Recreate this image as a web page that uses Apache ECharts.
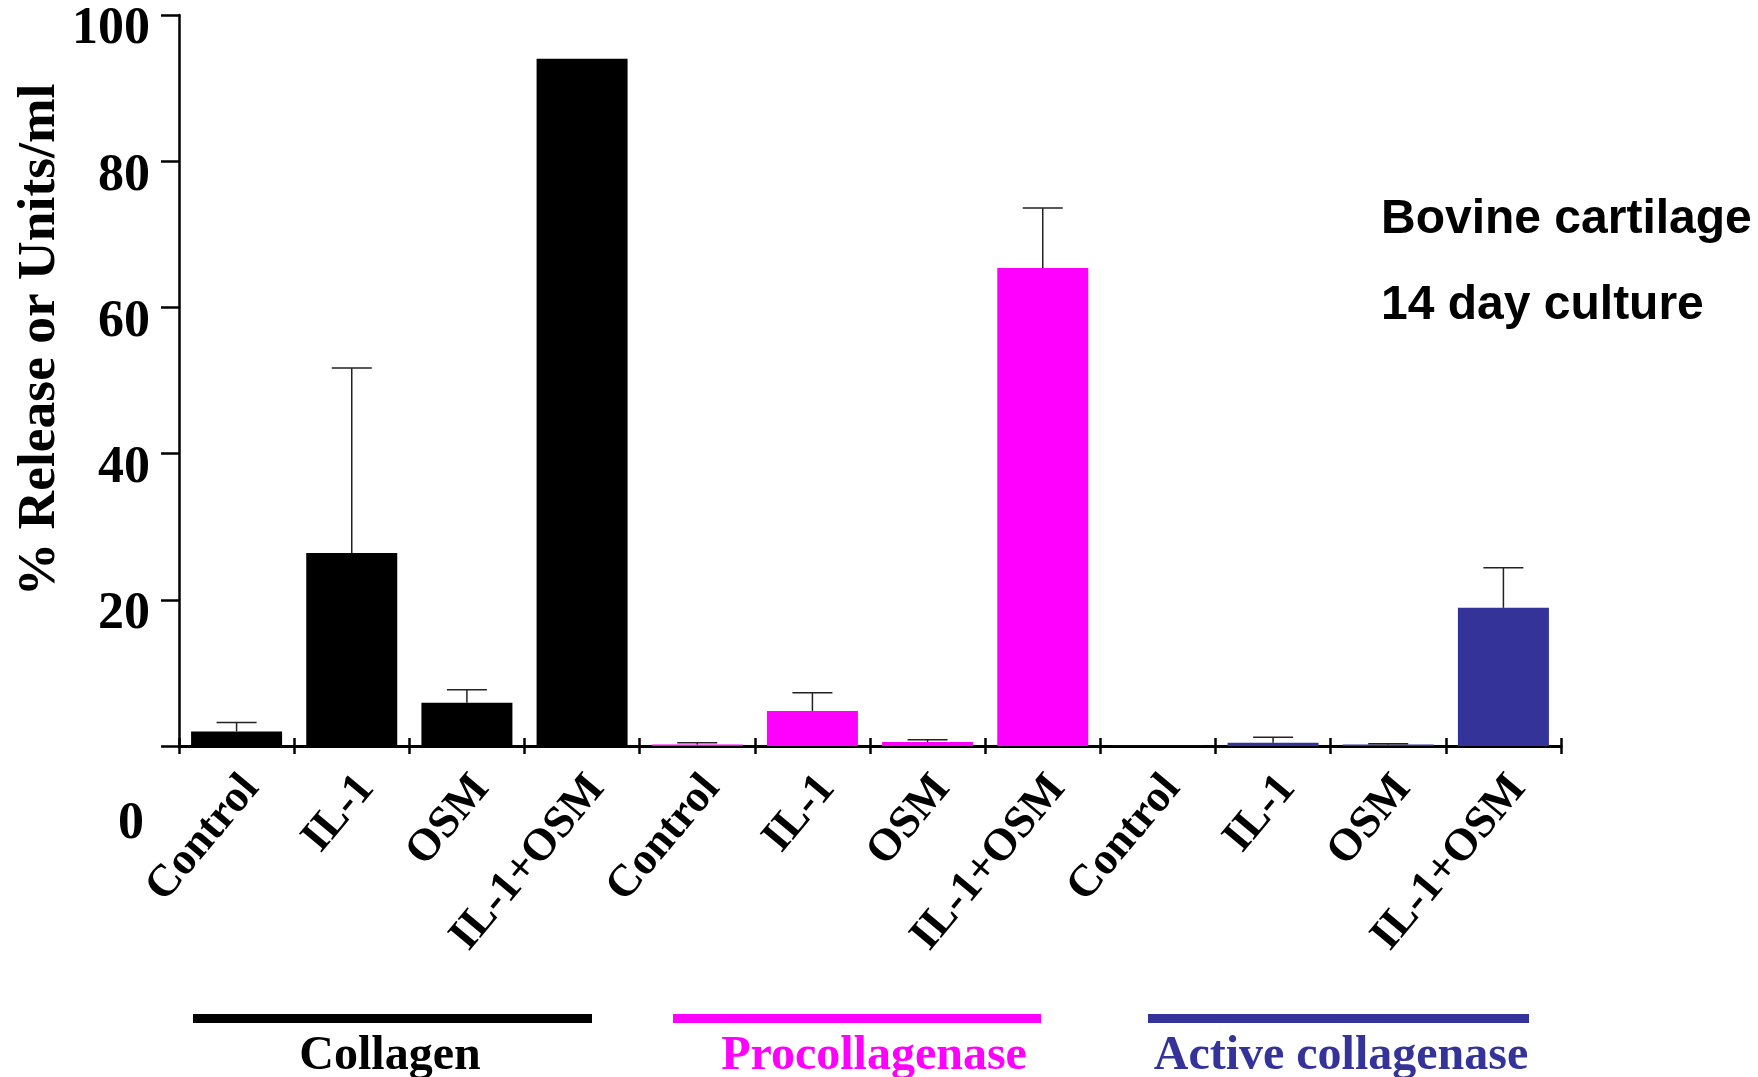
<!DOCTYPE html>
<html>
<head>
<meta charset="utf-8">
<title>Bovine cartilage, 14 day culture</title>
<script src="https://cdn.jsdelivr.net/npm/echarts@6/dist/echarts.min.js"></script>
<style>
  html, body { margin: 0; padding: 0; background: #ffffff; }
  #chart { width: 1758px; height: 1077px; }
</style>
</head>
<body>
<div id="chart"></div>
<script>
// Treatments, repeated for each of the three measured groups
const treatments = ['Control', 'IL-1', 'OSM', 'IL-1+OSM'];
const categories = treatments.concat(treatments, treatments);

// Mean values (% release or units/ml) and the upper error (SD) per treatment
const collagen = [2.0, 26.4, 5.9, 94.0];
const collagenErr = [1.2, 25.3, 1.8, 0];
const procollagenase = [0.2, 4.8, 0.55, 65.4];
const procollagenaseErr = [0.25, 2.5, 0.3, 8.2];
const activeCollagenase = [0.03, 0.45, 0.2, 18.9];
const activeCollagenaseErr = [0, 0.75, 0.1, 5.5];

const groupNames = ['Collagen', 'Procollagenase', 'Active collagenase'];
const groupColors = ['#000000', '#ff00ff', '#333399'];

const yTicks = [0, 20, 40, 60, 80, 100];

const SERIF = '"Liberation Serif", "Times New Roman", Times, serif';
const SANS = '"Liberation Sans", Arial, Helvetica, sans-serif';

const values = collagen.concat(procollagenase, activeCollagenase);
const errors = collagenErr.concat(procollagenaseErr, activeCollagenaseErr);

const barData = values.map((v, i) => ({
  value: v,
  itemStyle: { color: groupColors[Math.floor(i / 4)] }
}));
const errData = values.map((v, i) => [i, v, errors[i]]);

// Group brackets under the category labels: [x start, x end, text centre]
const groupLayout = [
  [193, 592, 390],
  [673, 1041, 874],
  [1148, 1529, 1341]
];

const graphic = [
  {
    type: 'text',
    x: 40, y: 340,
    rotation: Math.PI / 2,
    style: {
      text: '% Release or Units/ml',
      font: 'bold 53.5px ' + SERIF,
      fill: '#000',
      align: 'center',
      verticalAlign: 'middle'
    }
  },
  {
    type: 'text', x: 1381, y: 220,
    style: { text: 'Bovine cartilage', font: 'bold 48px ' + SANS, fill: '#000', align: 'left', verticalAlign: 'middle' }
  },
  {
    type: 'text', x: 1381, y: 306,
    style: { text: '14 day culture', font: 'bold 48px ' + SANS, fill: '#000', align: 'left', verticalAlign: 'middle' }
  }
];
groupLayout.forEach((g, k) => {
  graphic.push({
    type: 'rect',
    shape: { x: g[0], y: 1014, width: g[1] - g[0], height: 9 },
    style: { fill: groupColors[k] }
  });
  graphic.push({
    type: 'text', x: g[2], y: 1057,
    style: { text: groupNames[k], font: 'bold 48px ' + SERIF, fill: groupColors[k], align: 'center', verticalAlign: 'middle' }
  });
});

const chart = echarts.init(document.getElementById('chart'), null, { renderer: 'canvas' });

chart.setOption({
  backgroundColor: '#ffffff',
  animation: false,
  grid: { left: 179, right: 197, top: 15, bottom: 331, containLabel: false },
  xAxis: [
    {
      type: 'category',
      data: categories,
      position: 'bottom',
      axisLine: { show: true, lineStyle: { color: '#000', width: 3 } },
      axisTick: { show: true, length: 8, lineStyle: { color: '#000', width: 2.5 } },
      axisLabel: {
        interval: 0,
        rotate: 50,
        margin: 23,
        formatter: v => '{c|' + v + '}',
        rich: {
          c: { fontFamily: SERIF, fontWeight: 'bold', fontSize: 45, color: '#000', padding: [38, 0, 0, 0] }
        }
      }
    },
    {
      type: 'category',
      data: categories,
      position: 'bottom',
      offset: 0,
      axisLine: { show: false },
      axisTick: { show: true, inside: true, length: 8, lineStyle: { color: '#000', width: 2.5 } },
      axisLabel: { show: false }
    }
  ],
  yAxis: {
    type: 'value',
    min: 0,
    max: 100,
    interval: 20,
    axisLine: { show: true, lineStyle: { color: '#000', width: 2.5 } },
    axisTick: { show: true, length: 18, lineStyle: { color: '#000', width: 2.5 } },
    splitLine: { show: false },
    axisLabel: {
      margin: 29,
      verticalAlign: 'middle',
      formatter: v => (v === yTicks[0] ? '{z|' + v + '}' : '{n|' + v + '}'),
      rich: {
        n: { fontFamily: SERIF, fontWeight: 'bold', fontSize: 52, color: '#000', padding: [30, 0, 0, 0] },
        z: { fontFamily: SERIF, fontWeight: 'bold', fontSize: 52, color: '#000', padding: [158, 6, 0, 0] }
      }
    }
  },
  series: [
    {
      type: 'bar',
      data: barData,
      barWidth: 91,
      xAxisIndex: 0,
      z: 2
    },
    {
      type: 'custom',
      xAxisIndex: 0,
      z: 3,
      data: errData,
      renderItem: function (params, api) {
        const i = api.value(0);
        const v = api.value(1);
        const e = api.value(2);
        if (!(e > 0)) return null;
        const p0 = api.coord([i, v]);
        const p1 = api.coord([i, v + e]);
        const half = 20;
        const style = { stroke: '#222', lineWidth: 1.5 };
        return {
          type: 'group',
          children: [
            { type: 'line', shape: { x1: p0[0], y1: p0[1], x2: p1[0], y2: p1[1] }, style: style },
            { type: 'line', shape: { x1: p1[0] - half, y1: p1[1], x2: p1[0] + half, y2: p1[1] }, style: style }
          ]
        };
      }
    }
  ],
  graphic: graphic
});
</script>
</body>
</html>
